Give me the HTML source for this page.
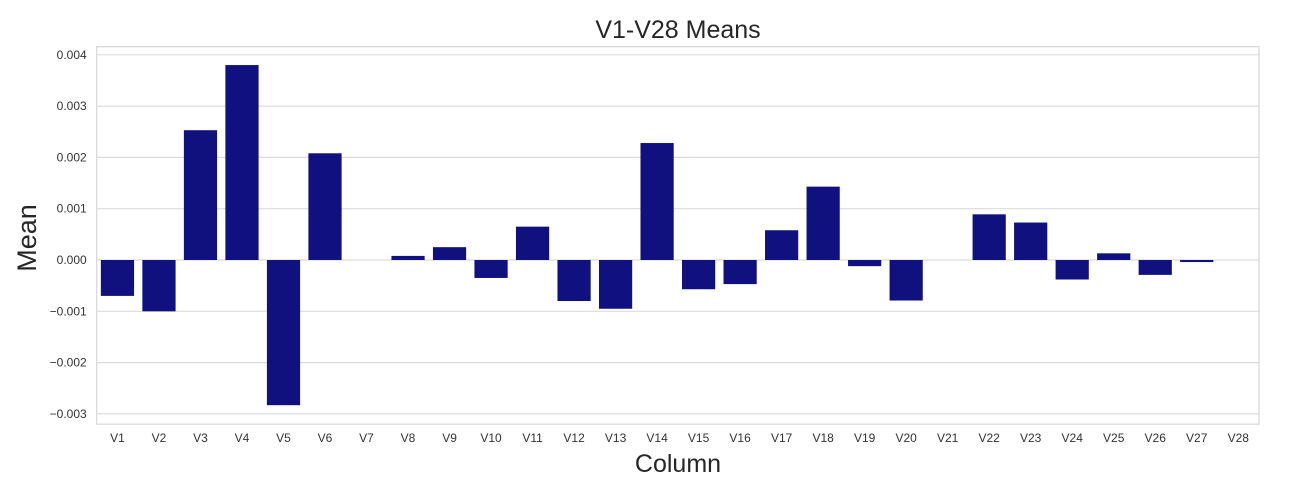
<!DOCTYPE html>
<html><head><meta charset="utf-8"><style>
body{margin:0;background:#fff;font-family:"Liberation Sans",sans-serif}
svg text{font-family:"Liberation Sans",sans-serif}
</style></head><body>
<svg id="chart" width="1300" height="487" xmlns="http://www.w3.org/2000/svg">
<text x="678" y="38" font-size="25" text-anchor="middle" fill="#262626">V1-V28 Means</text>
<text transform="translate(36,238) rotate(-90)" font-size="27" text-anchor="middle" fill="#262626">Mean</text>
<text x="678" y="472" font-size="25" text-anchor="middle" fill="#262626">Column</text>
<g id="grid"></g><g id="bars"></g><g id="xt"></g><g id="yt"></g>
<rect x="96.7" y="46.7" width="1162.3" height="377.5" fill="none" stroke="#d6d6d6" stroke-width="1.2"/>
</svg>
<script>
const categories=["V1","V2","V3","V4","V5","V6","V7","V8","V9","V10","V11","V12","V13","V14","V15","V16","V17","V18","V19","V20","V21","V22","V23","V24","V25","V26","V27","V28"];
const means=[-0.0007,-0.001,0.00253,0.0038,-0.00283,0.00208,0,0.00008,0.00025,-0.00035,0.00065,-0.0008,-0.00095,0.00228,-0.00057,-0.00047,0.00058,0.00143,-0.00012,-0.00079,0,0.00089,0.00073,-0.00038,0.00013,-0.00029,-0.00004,0];
const yTicks=[0.004,0.003,0.002,0.001,0,-0.001,-0.002,-0.003];
const yTickLabels=["0.004","0.003","0.002","0.001","0.000","\u22120.001","\u22120.002","\u22120.003"];
const NS="http://www.w3.org/2000/svg";
const L=96.7,R=1259,slot=(R-L)/categories.length;
const y=v=>260-v*51300;
const xc=i=>L+slot*(i+0.5);
function mk(tag,attrs,parent){const e=document.createElementNS(NS,tag);for(const k in attrs)e.setAttribute(k,attrs[k]);document.getElementById(parent).appendChild(e);return e;}
yTicks.forEach((t,i)=>{
 const g=mk("line",{x1:L,x2:R,y1:y(t),y2:y(t),stroke:"#dcdcdc","stroke-width":1.2},"grid");
 
 
 const tx=mk("text",{x:L-10,y:y(t)+4,"font-size":12,"text-anchor":"end",fill:"#333"},"yt");
 tx.textContent=yTickLabels[i];
 
 
});
categories.forEach((c,i)=>{
 const v=means[i],w=slot*0.8;
 const top=Math.min(y(v),y(0)),h=Math.max(Math.abs(y(v)-y(0)),0.01);
 const b=mk("rect",{x:xc(i)-w/2,y:top,width:w,height:h,fill:"#10107f"},"bars");
 
 
 const tx=mk("text",{x:xc(i),y:442,"font-size":12,"text-anchor":"middle",fill:"#333"},"xt");
 tx.textContent=c;
 
 
});
</script>
</body></html>
